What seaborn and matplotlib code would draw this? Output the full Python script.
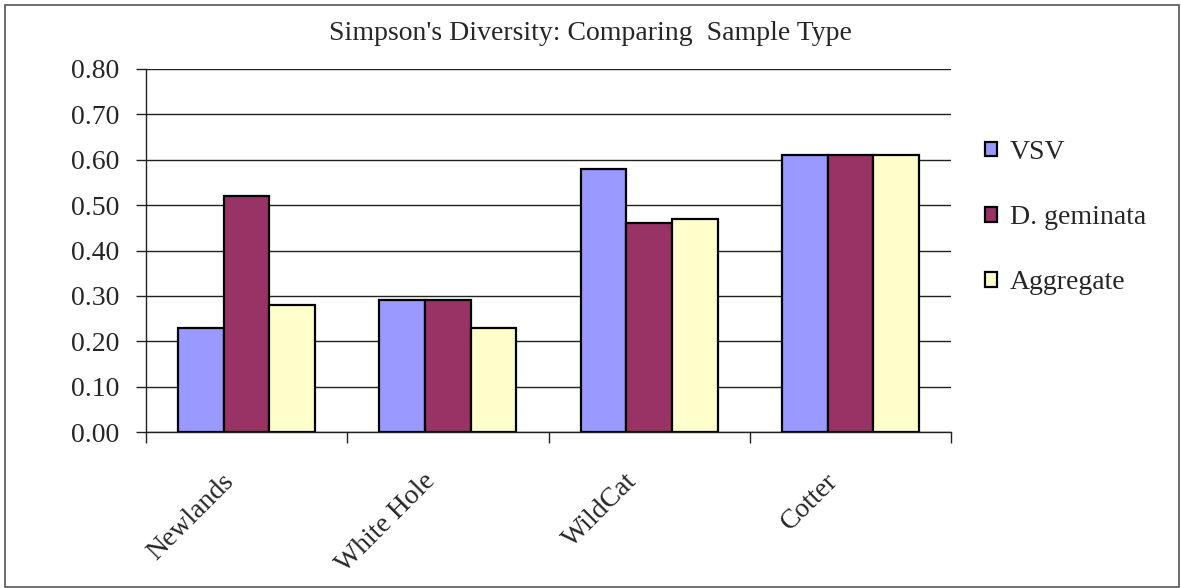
import matplotlib
matplotlib.use("Agg")
import matplotlib.pyplot as plt
import matplotlib.transforms as mtransforms
from matplotlib.patches import Rectangle
import seaborn as sns
import pandas as pd

# Simpson's diversity index per site, by sample type
sites = ["Newlands", "White Hole", "WildCat", "Cotter"]
sample_types = ["VSV", "D. geminata", "Aggregate"]
vsv = [0.23, 0.29, 0.58, 0.61]
d_geminata = [0.52, 0.29, 0.46, 0.61]
aggregate = [0.28, 0.23, 0.47, 0.61]
colors = ["#9999FF", "#993366", "#FFFFCC"]
y_ticks = [0.0, 0.1, 0.2, 0.3, 0.4, 0.5, 0.6, 0.7, 0.8]

df = pd.DataFrame({
    "site": sites * 3,
    "type": [t for t in sample_types for _ in sites],
    "value": vsv + d_geminata + aggregate,
})

sns.set_theme(style="white")
plt.rcParams["font.family"] = ["Liberation Serif", "DejaVu Serif"]
FS = 20

fig = plt.figure(figsize=(11.81, 5.88), dpi=100)
ax = fig.add_axes([146 / 1181, 1 - 432 / 588, (951 - 146) / 1181, (432 - 69) / 588])

sns.barplot(data=df, x="site", y="value", hue="type", order=sites,
            hue_order=sample_types, palette=colors, saturation=1, width=0.68,
            edgecolor="black", linewidth=1.6, ax=ax, legend=False)

ax.set_ylim(0, 0.8)
ax.set_xlim(-0.5, len(sites) - 0.5)
ax.set_yticks(y_ticks)
ax.set_yticklabels([f"{v:.2f}" for v in y_ticks], fontsize=FS)
ax.yaxis.grid(True, color="#222222", linewidth=1.0)
ax.set_axisbelow(True)
ax.set_xlabel("")
ax.set_ylabel("")

for side in ("top", "right"):
    ax.spines[side].set_visible(False)
for side in ("left", "bottom"):
    ax.spines[side].set_color("#222222")
    ax.spines[side].set_linewidth(1.0)

ax.tick_params(axis="y", direction="out", length=7, width=1.0, color="#222222",
               left=True, pad=12)
ax.set_xticks(range(len(sites)))
ax.set_xticklabels(sites, fontsize=FS, rotation=45, ha="right",
                   rotation_mode="anchor")
ax.tick_params(axis="x", which="major", length=0, pad=30)
ax.set_xticks([i - 0.5 for i in range(len(sites) + 1)], minor=True)
ax.tick_params(axis="x", which="minor", direction="out", length=8, width=1.0,
               color="#222222", bottom=True)

# nudge the slanted site names so they end just left of each group centre
shift = mtransforms.ScaledTranslation(-25 / 100, 5 / 100, fig.dpi_scale_trans)
for lbl in ax.get_xticklabels():
    lbl.set_transform(lbl.get_transform() + shift)

fig.text(0.5, 1 - 34 / 588, "Simpson's Diversity: Comparing  Sample Type",
         ha="center", va="center", fontsize=FS)

handles = [Rectangle((0, 0), 1, 1, facecolor=c, edgecolor="black", linewidth=1.6)
           for c in colors]
fig.legend(handles, sample_types, loc="upper left",
           bbox_to_anchor=(971 / 1181, 1 - 126 / 588), frameon=False,
           fontsize=FS, handlelength=0.45, handleheight=0.45,
           handletextpad=0.45, labelspacing=1.45, borderpad=0)

fig.add_artist(Rectangle((4.5 / 1181, 1 / 588), 1174 / 1181, 582 / 588,
                         transform=fig.transFigure, fill=False,
                         edgecolor="#555555", linewidth=1.2))

fig.savefig("out.png", dpi=100)
